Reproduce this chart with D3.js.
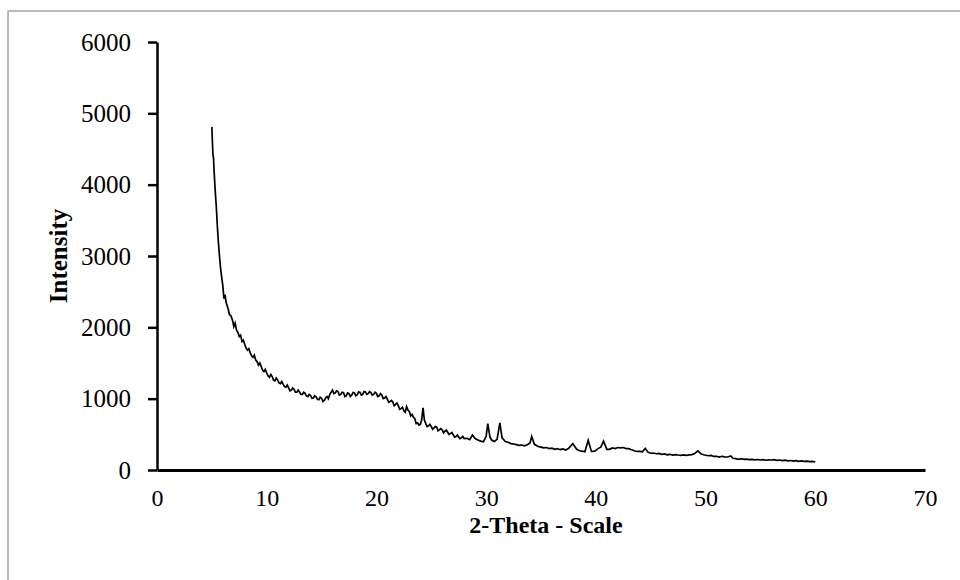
<!DOCTYPE html>
<html>
<head>
<meta charset="utf-8">
<script src="https://cdn.jsdelivr.net/npm/d3@7"></script>
<style>
  html, body { margin: 0; padding: 0; background: #fff; }
  svg { display: block; }
</style>
</head>
<body>
<svg id="chart" width="960" height="580"></svg>
<script>
// ---- DATA ----
const twoTheta = [
  5.0, 5.02, 5.05, 5.1, 5.15, 5.2, 5.3, 5.4, 5.5, 5.6, 5.7, 5.8, 5.9, 6.0, 6.1, 6.2, 6.3, 6.4, 6.5, 6.6, 6.75,
  6.9, 7.0, 7.12, 7.25, 7.37, 7.5, 7.62, 7.75, 7.87, 8.0, 8.12, 8.25, 8.37, 8.5, 8.62, 8.75, 8.87, 9.0, 9.12, 9.25, 9.37, 9.5, 9.62, 9.75, 9.87,
  10.0, 10.12, 10.25, 10.37, 10.5, 10.62, 10.75, 10.87, 11.0, 11.12, 11.25, 11.37, 11.5, 11.62, 11.75, 11.87,
  12.0, 12.12, 12.25, 12.37, 12.5, 12.62, 12.75, 12.87, 13.0, 13.12, 13.25, 13.37, 13.5, 13.62, 13.75, 13.87,
  14.0, 14.12, 14.25, 14.37, 14.5, 14.62, 14.75, 14.87, 15.0, 15.12, 15.25, 15.37, 15.5, 15.62, 15.75, 15.87,
  16.0, 16.12, 16.25, 16.37, 16.5, 16.62, 16.75, 16.87, 17.0, 17.12, 17.25, 17.37, 17.5, 17.62, 17.75, 17.87,
  18.0, 18.12, 18.25, 18.37, 18.5, 18.62, 18.75, 18.87, 19.0, 19.12, 19.25, 19.37, 19.5, 19.62, 19.75, 19.87,
  20.0, 20.12, 20.25, 20.37, 20.5, 20.62, 20.75, 20.87, 21.0, 21.12, 21.25, 21.37, 21.5, 21.62, 21.75, 21.87,
  22.0, 22.12, 22.25, 22.37, 22.5, 22.62, 22.75, 22.87, 23.0, 23.12, 23.25, 23.37, 23.5, 23.62, 23.75, 23.87,
  24.0, 24.12, 24.25, 24.37, 24.5, 24.62, 24.75, 24.87, 25.0, 25.12, 25.25, 25.37, 25.5, 25.62, 25.75, 25.87,
  26.0, 26.12, 26.25, 26.37, 26.5, 26.62, 26.75, 26.87, 27.0, 27.12, 27.25, 27.37, 27.5, 27.62, 27.75, 27.87,
  28.0, 28.25, 28.5, 28.75, 29.0, 29.25, 29.5, 29.75, 30.0, 30.15, 30.35, 30.5, 30.75,
  31.0, 31.25, 31.45, 31.75, 32.0, 32.25, 32.5, 32.75, 33.0, 33.25, 33.5, 33.75, 34.0, 34.15, 34.4, 34.75,
  35.0, 35.25, 35.5, 35.75, 36.0, 36.25, 36.5, 36.75, 37.0, 37.25, 37.5, 37.9, 38.25, 38.5, 38.75,
  39.0, 39.3, 39.6, 39.9, 40.2, 40.45, 40.7, 41.0, 41.25, 41.5, 41.75, 42.0, 42.25, 42.5, 42.75,
  43.0, 43.25, 43.5, 43.75, 44.0, 44.25, 44.5, 44.75, 45.0, 45.25, 45.5, 45.75, 46.0, 46.25, 46.5, 46.75,
  47.0, 47.25, 47.5, 47.75, 48.0, 48.25, 48.5, 48.75, 49.0, 49.3, 49.6, 49.9, 50.25, 50.5, 50.75,
  51.0, 51.25, 51.5, 51.75, 52.0, 52.3, 52.5, 52.75, 53.0, 53.25, 53.5, 53.75, 54.0, 54.25, 54.5, 54.75,
  55.0, 55.25, 55.5, 55.75, 56.0, 56.25, 56.5, 56.75, 57.0, 57.25, 57.5, 57.75, 58.0, 58.25, 58.5, 58.75,
  59.0, 59.25, 59.5, 59.75, 60.0
];
const intensity = [
  4810, 4720, 4600, 4420, 4380, 4200, 3930, 3700, 3420, 3180, 2990, 2820, 2700, 2580, 2400, 2460, 2350, 2300, 2250, 2180, 2160,
  2090, 2010, 2060, 1960, 1930, 1870, 1890, 1800, 1820, 1760, 1710, 1680, 1700, 1640, 1600, 1580, 1610, 1540, 1520, 1470, 1500, 1450, 1400, 1380, 1410,
  1360, 1320, 1300, 1340, 1310, 1260, 1250, 1290, 1260, 1220, 1210, 1240, 1200, 1170, 1160, 1190,
  1150, 1110, 1120, 1150, 1130, 1090, 1090, 1120, 1090, 1060, 1060, 1090, 1075, 1040, 1030, 1060,
  1045, 1005, 1010, 1040, 1025, 990, 985, 1020, 1005, 960, 975, 1010, 1030, 1000, 1060, 1090,
  1120, 1070, 1080, 1110, 1100, 1050, 1060, 1090, 1085, 1030, 1040, 1080, 1070, 1030, 1050, 1085,
  1080, 1040, 1055, 1095, 1090, 1050, 1060, 1100, 1095, 1060, 1070, 1100, 1085, 1050, 1060, 1090,
  1075, 1030, 1040, 1070, 1050, 1000, 1010, 1030, 990, 950, 960, 975, 950, 900, 920, 940,
  900, 850, 860, 880, 830, 810, 890, 840, 820, 760, 780, 740, 720, 650, 660, 630,
  640, 700, 870, 700, 650, 610, 620, 640, 610, 570, 590, 610, 600, 550, 565, 580,
  560, 520, 545, 560, 530, 500, 510, 525, 495, 460, 470, 490, 460, 440, 450, 470,
  440, 445, 425, 490, 440, 420, 405, 395, 470, 650, 460, 420, 400,
  430, 660, 450, 400, 390, 370, 365, 355, 345, 350, 340, 355, 380, 470, 360, 330,
  320, 310, 315, 300, 305, 290, 300, 285, 295, 280, 300, 370, 290, 270, 265,
  255, 415, 260, 265, 300, 320, 405, 290, 290, 310, 300, 315, 310, 315, 300,
  300, 285, 270, 260, 262, 255, 304, 250, 235, 238, 228, 232, 220, 225, 212, 220,
  208, 216, 210, 205, 212, 205, 212, 215, 230, 268, 225, 210, 200, 205, 190,
  192, 180, 192, 184, 182, 198, 165, 160, 150, 158, 148, 152, 145, 150, 142, 147,
  140, 145, 137, 143, 140, 146, 135, 140, 132, 138, 128, 133, 125, 130, 122, 128,
  120, 125, 117, 120, 112
];
const xTicks = [0, 10, 20, 30, 40, 50, 60, 70];
const yTicks = [0, 1000, 2000, 3000, 4000, 5000, 6000];
const xTitle = "2-Theta - Scale";
const yTitle = "Intensity";

// ---- CHART ----
const svg = d3.select("#chart");
const font = "'Liberation Serif', 'Times New Roman', serif";

svg.append("rect")
  .attr("x", 8).attr("y", 11)
  .attr("width", 1000).attr("height", 1000)
  .attr("fill", "#fff").attr("stroke", "#a6a6a6").attr("stroke-width", 1.5);

const x = d3.scaleLinear().domain([0, 70]).range([157, 925]);
const y = d3.scaleLinear().domain([0, 6000]).range([470, 42]);

const data = twoTheta.map((t, i) => ({ t, v: intensity[i] }));

// y axis
const yAxis = svg.append("g")
  .attr("transform", `translate(${x(0)},0)`)
  .call(d3.axisLeft(y).tickValues(yTicks).tickSize(9).tickSizeOuter(0).tickPadding(17).tickFormat(d3.format("d")));
yAxis.select(".domain").attr("stroke", "#000").attr("stroke-width", 2.5);
yAxis.selectAll(".tick line").attr("stroke", "#000").attr("stroke-width", 2.5);
yAxis.selectAll(".tick text").attr("font-family", font).attr("font-size", 25).attr("fill", "#000");

// x axis
const xAxis = svg.append("g")
  .attr("transform", `translate(0,${y(0)})`)
  .call(d3.axisBottom(x).tickValues(xTicks).tickSize(0).tickSizeOuter(0).tickPadding(19).tickFormat(d3.format("d")));
xAxis.select(".domain").attr("stroke", "#000").attr("stroke-width", 3);
xAxis.selectAll(".tick text").attr("font-family", font).attr("font-size", 24).attr("fill", "#000");

// line
const line = d3.line().x(d => x(d.t)).y(d => y(d.v));
svg.append("path")
  .datum(data)
  .attr("d", line)
  .attr("fill", "none")
  .attr("stroke", "#000")
  .attr("stroke-width", 1.7)
  .attr("stroke-linejoin", "miter");

// titles
svg.append("text")
  .attr("x", (x(0) + x(70)) / 2 + 5).attr("y", 533)
  .attr("text-anchor", "middle")
  .attr("font-family", font).attr("font-weight", "bold").attr("font-size", 24)
  .text(xTitle);

svg.append("text")
  .attr("transform", `translate(67,${(y(0) + y(6000)) / 2}) rotate(-90)`)
  .attr("text-anchor", "middle")
  .attr("font-family", font).attr("font-weight", "bold").attr("font-size", 25)
  .text(yTitle);
</script>
</body>
</html>
